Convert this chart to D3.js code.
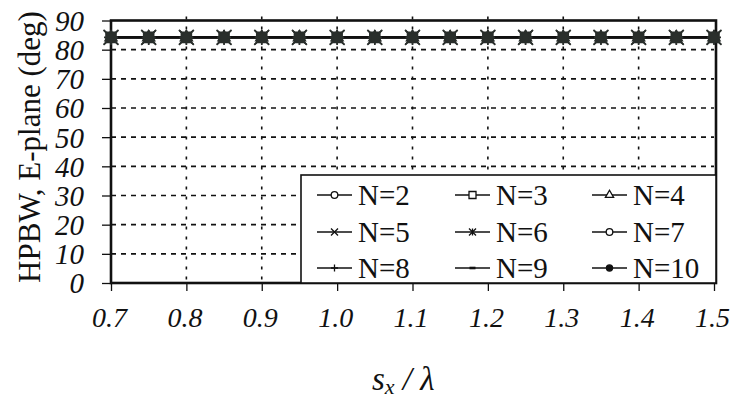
<!DOCTYPE html>
<html><head><meta charset="utf-8">
<script src="https://cdn.jsdelivr.net/npm/d3@7"></script>
<style>
html,body{margin:0;padding:0;background:#fff;}
svg{display:block;}
</style></head>
<body>
<svg id="chart" width="730" height="402"></svg>
<script>
const sx = [0.70,0.75,0.80,0.85,0.90,0.95,1.00,1.05,1.10,1.15,1.20,1.25,1.30,1.35,1.40,1.45,1.50];
const seriesNames = ["N=2","N=3","N=4","N=5","N=6","N=7","N=8","N=9","N=10"];
const hpbwN2  = [84.2,84.2,84.2,84.2,84.2,84.2,84.2,84.2,84.2,84.2,84.2,84.2,84.2,84.2,84.2,84.2,84.2];
const hpbwN3  = [84.2,84.2,84.2,84.2,84.2,84.2,84.2,84.2,84.2,84.2,84.2,84.2,84.2,84.2,84.2,84.2,84.2];
const hpbwN4  = [84.2,84.2,84.2,84.2,84.2,84.2,84.2,84.2,84.2,84.2,84.2,84.2,84.2,84.2,84.2,84.2,84.2];
const hpbwN5  = [84.2,84.2,84.2,84.2,84.2,84.2,84.2,84.2,84.2,84.2,84.2,84.2,84.2,84.2,84.2,84.2,84.2];
const hpbwN6  = [84.2,84.2,84.2,84.2,84.2,84.2,84.2,84.2,84.2,84.2,84.2,84.2,84.2,84.2,84.2,84.2,84.2];
const hpbwN7  = [84.2,84.2,84.2,84.2,84.2,84.2,84.2,84.2,84.2,84.2,84.2,84.2,84.2,84.2,84.2,84.2,84.2];
const hpbwN8  = [84.2,84.2,84.2,84.2,84.2,84.2,84.2,84.2,84.2,84.2,84.2,84.2,84.2,84.2,84.2,84.2,84.2];
const hpbwN9  = [84.2,84.2,84.2,84.2,84.2,84.2,84.2,84.2,84.2,84.2,84.2,84.2,84.2,84.2,84.2,84.2,84.2];
const hpbwN10 = [84.2,84.2,84.2,84.2,84.2,84.2,84.2,84.2,84.2,84.2,84.2,84.2,84.2,84.2,84.2,84.2,84.2];
const xTicks = [0.7,0.8,0.9,1.0,1.1,1.2,1.3,1.4,1.5];
const xTickLabels = ["0.7","0.8","0.9","1.0","1.1","1.2","1.3","1.4","1.5"];
const yTicks = [0,10,20,30,40,50,60,70,80,90];
const markerTypes = ["circle","square","triangle","x","asterisk","circle","plus","dash","dot"];

const FONT = "Liberation Serif, Tinos, DejaVu Serif, serif";

const series = seriesNames.map((n,i)=>({name:n, marker:markerTypes[i],
  values:[hpbwN2,hpbwN3,hpbwN4,hpbwN5,hpbwN6,hpbwN7,hpbwN8,hpbwN9,hpbwN10][i]}));

const svg = d3.select("#chart");
const L=111, R=714, T=20.5, B=283;
const x = d3.scaleLinear().domain([0.7,1.5]).range([L,R]);
const y = d3.scaleLinear().domain([0,90]).range([B,T]);

// grid
const g = svg.append("g");
g.selectAll("line.hg").data(yTicks.filter(v=>v>0&&v<90)).enter().append("line")
  .attr("x1",L).attr("x2",R).attr("y1",d=>y(d)).attr("y2",d=>y(d))
  .attr("stroke","#111").attr("stroke-width",1.6).attr("stroke-dasharray","5,5");
g.selectAll("line.vg").data(xTicks.filter(v=>v>0.7&&v<1.5)).enter().append("line")
  .attr("x1",d=>x(d)).attr("x2",d=>x(d)).attr("y1",T-4).attr("y2",B)
  .attr("stroke","#111").attr("stroke-width",1.6).attr("stroke-dasharray","3,7");

// axes
const yAxis = d3.axisLeft(y).tickValues(yTicks).tickSize(9).tickFormat(d=>d);
const ya = svg.append("g").attr("transform",`translate(${L},0)`).call(yAxis)
  .attr("font-family",FONT);
ya.select(".domain").remove();
ya.selectAll("line").attr("stroke","#111").attr("stroke-width",1.3);
ya.selectAll("text").attr("font-size",29).attr("font-style","italic")
  .attr("x",-27).attr("dy","0.34em").attr("fill","#111");

const xAxis = d3.axisBottom(x).tickValues(xTicks).tickSize(8).tickFormat((d,i)=>xTickLabels[i]);
const xa = svg.append("g").attr("transform",`translate(0,${B})`).call(xAxis)
  .attr("font-family",FONT);
xa.select(".domain").remove();
xa.selectAll("line").attr("stroke","#111").attr("stroke-width",1.3);
xa.selectAll("text").attr("font-size",28).attr("font-style","italic")
  .attr("y",34).attr("dy","0.35em").attr("dx",-2).attr("fill","#111");

// frame
svg.append("rect").attr("x",L).attr("y",T).attr("width",R-L+2).attr("height",B-T)
  .attr("fill","none").attr("stroke","#111").attr("stroke-width",2.6);

// marker path
function markerPath(type,s){
  const h=s/2;
  switch(type){
    case "circle": return d3.symbol(d3.symbolCircle, s*s*0.7)();
    case "square": return `M${-h},${-h}H${h}V${h}H${-h}Z`;
    case "triangle": return d3.symbol(d3.symbolTriangle, s*s*0.6)();
    case "x": return `M${-h},${-h}L${h},${h}M${-h},${h}L${h},${-h}`;
    case "asterisk": return `M${-h},${-h}L${h},${h}M${-h},${h}L${h},${-h}M0,${-h}V${h}`;
    case "plus": return `M${-h},0H${h}M0,${-h}V${h}`;
    case "dash": return `M${-h*0.6},0H${h*0.6}`;
    case "dot": return d3.symbol(d3.symbolCircle, s*s*0.6)();
  }
}
function markerFill(type){ return type==="dot" ? "#111" : (type==="square"||type==="triangle"||type==="circle") ? "#fff" : "none"; }

// series
const line = d3.line().x((d,i)=>x(sx[i])).y(d=>y(d));
const sg = svg.append("g");
series.forEach(s=>{
  sg.append("path").datum(s.values).attr("d",line).attr("fill","none")
    .attr("stroke","#111").attr("stroke-width",1.6);
});
const sizes = {circle:9,square:10,triangle:10,x:14,asterisk:15,plus:14,dash:10,dot:10};
const closed = {circle:1,square:1,triangle:1,dot:1};
series.forEach(s=>{
  sg.selectAll(null).data(s.values).enter().append("path")
    .attr("transform",(d,i)=>`translate(${x(sx[i])},${y(d)})`)
    .attr("d",markerPath(s.marker,sizes[s.marker]))
    .attr("fill",closed[s.marker]?"#2a2f2c":"none")
    .attr("stroke","#2a2f2c").attr("stroke-width",1.6);
});

// legend
const lg = svg.append("g").attr("font-family",FONT);
lg.append("rect").attr("x",301).attr("y",175).attr("width",R+2-301).attr("height",B-175)
  .attr("fill","#fff").attr("stroke","#111").attr("stroke-width",1.6);
const colX=[317,455,592], rowY=[195,232,268];
series.forEach((s,i)=>{
  const cx=colX[i%3], cy=rowY[Math.floor(i/3)];
  lg.append("line").attr("x1",cx).attr("x2",cx+35).attr("y1",cy).attr("y2",cy)
    .attr("stroke","#111").attr("stroke-width",1.6);
  lg.append("path").attr("transform",`translate(${cx+17.5},${cy})`)
    .attr("d",markerPath(s.marker, s.marker==="dash"?10:7))
    .attr("fill",markerFill(s.marker)).attr("stroke","#111")
    .attr("stroke-width",s.marker==="dash"?2.6:1.3);
  lg.append("text").attr("x",cx+41).attr("y",cy+10).attr("font-size",29).attr("fill","#111").text(s.name);
});

// axis titles
svg.append("text").attr("transform","translate(40,147) rotate(-90)").attr("font-family",FONT)
  .attr("text-anchor","middle").attr("font-size",31).attr("fill","#111").text("HPBW, E-plane (deg)");
const xt = svg.append("text").attr("x",372).attr("y",390).attr("font-family",FONT)
  .attr("font-size",33).attr("font-style","italic").attr("fill","#111");
xt.append("tspan").text("s");
xt.append("tspan").attr("font-size",22).attr("dy",4).text("x");
xt.append("tspan").attr("dy",-4).text(" / λ");
</script>
</body></html>
